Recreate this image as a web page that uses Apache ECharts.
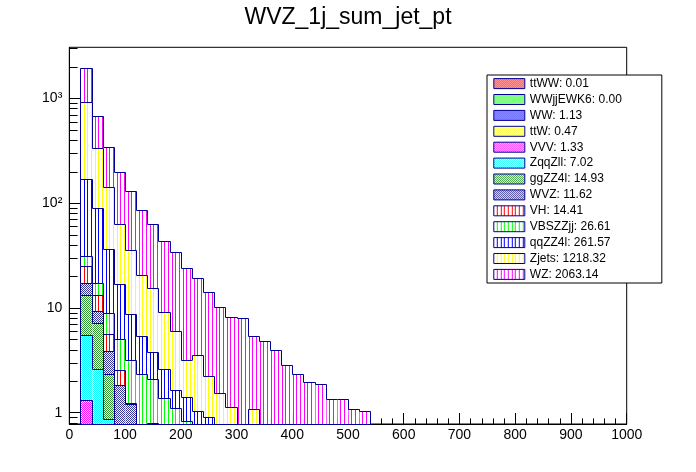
<!DOCTYPE html>
<html><head><meta charset="utf-8">
<script src="https://cdn.jsdelivr.net/npm/echarts@6/dist/echarts.min.js"></script>
<style>html,body{margin:0;padding:0;background:#fff}#c{width:696px;height:472px}</style>
</head><body><div id="c"></div>
<script>
// ---- data ----
const binLow = [20,40,60,80,100,120,140,160,180,200,220,240,260,280,300,320,340,360,380,400,420,440,460,480,500,520];
const binWidth = 20;
const processes = ['ttWW','WWjjEWK6','WW','ttW','VVV','ZqqZll','ggZZ4l','WVZ','VH','VBSZZjj','qqZZ4l','Zjets','WZ'];
const legendTotals = ['0.01','0.00','1.13','0.47','1.33','7.02','14.93','11.62','14.41','26.61','261.57','1218.32','2063.14'];
const ttWW     = [0,0,0.005,0.005,0,0,0,0,0,0,0,0,0,0,0,0,0,0,0,0,0,0,0,0,0,0];
const WWjjEWK6 = [0,0,0,0,0,0,0,0,0,0,0,0,0,0,0,0,0,0,0,0,0,0,0,0,0,0];
const WW       = [0.3,0.15,0.12,0.1,0.08,0.07,0.06,0.05,0.04,0.03,0.03,0.02,0.02,0.02,0.02,0.02,0,0,0,0,0,0,0,0,0,0];
const ttW      = [0.12,0.08,0.06,0.05,0.04,0.03,0.03,0.02,0.02,0.01,0.01,0,0,0,0,0,0,0,0,0,0,0,0,0,0,0];
const VVV      = [0.9,0.25,0.1,0.05,0.03,0,0,0,0,0,0,0,0,0,0,0,0,0,0,0,0,0,0,0,0,0];
const ZqqZll   = [4.19,2.13,0.58,0.1,0.04,0,0,0,0,0,0,0,0,0,0,0,0,0,0,0,0,0,0,0,0,0];
const ggZZ4l   = [7.8,4.52,1.455,0.35,0.25,0.12,0.1,0.08,0.05,0.03,0,0,0,0,0,0,0,0,0,0,0,0,0,0,0,0];
const WVZ      = [3.9,2.21,1.56,1.185,0.77,0.5,0.55,0.3,0.2,0.15,0.1,0.06,0,0,0,0,0,0,0,0,0,0,0,0,0,0];
const VH       = [8.1,3.96,1.7,0.72,0.04,0.02,0.06,0,0,0,0,0,0,0,0,0,0,0,0,0,0,0,0,0,0,0];
const VBSZZjj  = [6.0,3.9,3.3,2.45,1.93,1.58,1.28,0.92,0.81,0.62,0.4,0.35,0.25,0.15,0.15,0.1,0.1,0.05,0,0,0,0,0,0,0,0];
const qqZZ4l   = [137.7,72,27.42,11.89,5.57,3.08,1.74,1.22,0.53,0.56,0.5,0.47,0.3,0.2,0.15,0.1,0.05,0.05,0.03,0,0,0,0,0,0,0];
const Zjets    = [747,243.8,106.2,45.9,26.95,15.1,11.68,6.49,4.37,1.78,2.49,1.32,0.97,0.76,0.2,0.86,0.15,0.1,0.1,0.1,0.05,0.05,0,0,0,0];
const WZ       = [1017,349,202.5,134.2,94.3,64.9,47.3,34.4,27.9,20.8,15.8,11.9,8.76,7.0,7.43,4.28,4.5,3.74,2.7,2.22,1.93,1.83,1.36,1.36,1.08,1.04];
const xTicks = [0,100,200,300,400,500,600,700,800,900,1000];
const yMajorTicks = [1,10,100,1000];
const yMinorTicks = [0.8,0.9,2,3,4,5,6,7,8,9,20,30,40,50,60,70,80,90,200,300,400,500,600,700,800,900,2000,3000];

const seriesValues = [ttWW,WWjjEWK6,WW,ttW,VVV,ZqqZll,ggZZ4l,WVZ,VH,VBSZZjj,qqZZ4l,Zjets,WZ];

// ---- style ----
const yMin = 0.78, yMax = 3070;
const FONT = 'Liberation Sans, Arial, Helvetica, sans-serif';
const LINE = '#000099';
const colors = ['#ff0000','#00ff00','#0000ff','#ffff00','#ff00ff','#00ffff','#339933','#333399','#ff0000','#00ff00','#0000ff','#ffff00','#ff00ff'];
const kinds  = ['dots','dots','dots','dots','dots','dots','dots','dots','stripes','stripes','stripes','stripes','stripes'];

function makePattern(color, kind){
  const c = document.createElement('canvas');
  const ctx = c.getContext('2d');
  if (kind === 'dots') {
    c.width = 2; c.height = 2;
    ctx.fillStyle = '#ffffff'; ctx.fillRect(0,0,2,2);
    ctx.fillStyle = color; ctx.fillRect(0,0,1,1); ctx.fillRect(1,1,1,1);
  } else {
    c.width = 11; c.height = 1;
    ctx.fillStyle = '#ffffff'; ctx.fillRect(0,0,11,1);
    ctx.fillStyle = color; ctx.fillRect(3,0,1,1); ctx.fillRect(7,0,1,1); ctx.fillRect(10,0,1,1);
  }
  return {image: c, repeat: 'repeat'};
}
const patterns = colors.map((c,i)=>makePattern(c, kinds[i]));

// cumulative stacks (bottom-up)
const cum = [];
seriesValues.forEach((arr,k)=>{
  cum.push(arr.map((v,i)=> v + (k>0 ? cum[k-1][i] : 0)));
});

function snap(v){ return Math.round(v) + 0.5; }

function histSeries(k){
  const top = cum[k];
  const n = binLow.length;
  const data = binLow.map((x0,i)=>[x0, x0+binWidth, top[i], i>0 ? top[i-1] : 0, i]);
  return {
    type: 'custom', name: processes[k], coordinateSystem: 'cartesian2d', silent: true,
    encode: {x: [0,1], y: 2},
    data: data,
    renderItem: function(params, api){
      const x0 = api.value(0), x1 = api.value(1);
      const t = Math.max(api.value(2), yMin);
      const p = Math.max(api.value(3), yMin);
      const idx = api.value(4);
      const bl = api.coord([x0, yMin]);
      const tr = api.coord([x1, t]);
      const pp = api.coord([x0, p]);
      const X0 = snap(bl[0]), X1 = snap(tr[0]), YB = snap(bl[1]), YT = snap(tr[1]), YP = snap(pp[1]);
      const children = [];
      if (YB - YT > 0.5) {
        children.push({type:'rect', shape:{x:X0, y:YT, width:X1-X0, height:YB-YT}, style:{fill:'#ffffff'}});
        children.push({type:'rect', shape:{x:X0, y:YT, width:X1-X0, height:YB-YT}, style:{fill:patterns[k]}});
      }
      const pts = [[X0, YP],[X0, YT],[X1, YT]];
      if (idx === n-1) pts.push([X1, YB]);
      children.push({type:'polyline', shape:{points:pts}, style:{stroke:LINE, lineWidth:1, fill:null}});
      return {type:'group', children: children};
    },
    z: 2
  };
}

const series = [];
for (let k = processes.length-1; k >= 0; k--) series.push(histSeries(k));

// minor y ticks
series.push({
  type:'custom', name:'_yminor', coordinateSystem:'cartesian2d', silent:true,
  encode:{x:0, y:1},
  data: yMinorTicks.map(v=>[0, v]),
  renderItem: function(params, api){
    const p = api.coord([api.value(0), api.value(1)]);
    const y = snap(p[1]);
    return {type:'line', shape:{x1:p[0], y1:y, x2:p[0]+8.3, y2:y}, style:{stroke:'#000', lineWidth:1}};
  },
  z: 5
});

const supMap = {0:'',1:'',2:'\u00b2',3:'\u00b3'};
const chart = echarts.init(document.getElementById('c'), null, {renderer:'canvas'});
chart.setOption({
  animation: false,
  backgroundColor: '#ffffff',
  title: {
    text: 'WVZ_1j_sum_jet_pt', left: 'center', top: 1,
    textStyle: {fontFamily: FONT, fontSize: 23, fontWeight: 'normal', color: '#000'}
  },
  legend: {
    orient: 'vertical', left: 487, top: 75,
    padding: [2.6, 40, 2.6, 6.3],
    backgroundColor: '#ffffff', borderColor: '#000', borderWidth: 1,
    itemWidth: 31, itemHeight: 10, itemGap: 3.9,
    selectedMode: false,
    textStyle: {fontFamily: FONT, fontSize: 12, color: '#000', lineHeight: 12, padding:[0,0,0,0]},
    formatter: function(name){ return name + ': ' + legendTotals[processes.indexOf(name)]; },
    data: processes.map((p,i)=>({name:p, icon:'rect', itemStyle:{color:patterns[i], borderColor:LINE, borderWidth:1}})),
    z: 10
  },
  grid: {left: 69.3, right: 69.3, top: 47.3, bottom: 48, show: true, borderColor: '#000', borderWidth: 1, backgroundColor: '#fff', containLabel: false, outerBoundsMode: 'none'},
  xAxis: {
    type: 'value', min: xTicks[0], max: xTicks[xTicks.length-1], interval: 100,
    axisLine: {show: true, onZero: false, lineStyle: {color: '#000', width: 1}},
    axisTick: {show: true, inside: true, length: 11, lineStyle: {color: '#000'}},
    minorTick: {show: true, splitNumber: 5, length: 5.6, lineStyle: {color: '#000'}},
    splitLine: {show: false},
    axisLabel: {color: '#000', fontFamily: FONT, fontSize: 14, margin: 4, formatter: function(v){ return String(v); }}
  },
  yAxis: {
    type: 'log', logBase: 10, min: yMin, max: yMax,
    axisLine: {show: true, lineStyle: {color: '#000', width: 1}},
    axisTick: {show: true, inside: true, length: 17, lineStyle: {color: '#000'}},
    splitLine: {show: false},
    axisLabel: {
      color: '#000', fontFamily: FONT, fontSize: 14, margin: 7,
      showMinLabel: false, showMaxLabel: false,
      formatter: function(v){
        const e = Math.round(Math.log10(v));
        if (Math.abs(Math.log10(v) - e) > 1e-6) return '';
        if (e === 0) return '1';
        if (e === 1) return '10';
        return '10' + supMap[e];
      }
    }
  },
  series: series
});
</script></body></html>
